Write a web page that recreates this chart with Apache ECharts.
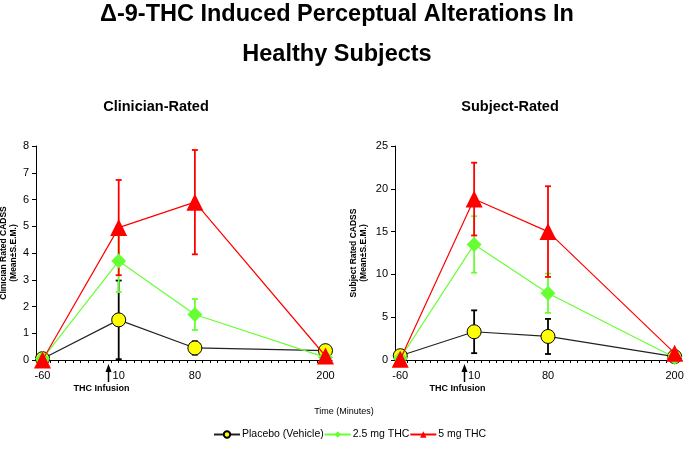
<!DOCTYPE html>
<html>
<head>
<meta charset="utf-8">
<script src="https://cdn.jsdelivr.net/npm/echarts@6/dist/echarts.min.js"></script>
<style>
html,body{margin:0;padding:0;background:#fff;}
#chart{width:686px;height:449px;}
</style>
</head>
<body>
<div id="chart"></div>
<script>
// ---- data ----
const times = [-60, 10, 80, 200];
const xTickLabels = [-60, 10, 80, 200];
const seriesNames = ['Placebo (Vehicle)', '2.5 mg THC', '5 mg THC'];

const clinPlacebo = [0.05, 1.5, 0.45, 0.35];
const clinPlaceboSem = [0, 1.47, 0.25, 0.15];
const clinLow = [0.05, 3.7, 1.7, 0.1];
const clinLowSem = [0, 1.16, 0.58, 0.05];
const clinHigh = [0.0, 4.95, 5.9, 0.15];
const clinHighSem = [0, 1.78, 1.95, 0.1];

const subjPlacebo = [0.5, 3.3, 2.75, 0.4];
const subjPlaceboSem = [0, 2.5, 2.05, 0.2];
const subjLow = [0.2, 13.5, 7.8, 0.3];
const subjLowSem = [0, 3.3, 2.3, 0.1];
const subjHigh = [0.1, 18.8, 15.0, 0.8];
const subjHighSem = [0, 4.25, 5.3, 0.2];

const minorTicks = [];
for (let k = 0; k <= 37; k++) minorTicks.push(-60 + 7 * k);

const FONT = 'Liberation Sans, Arial, sans-serif';
const colors = ['#222222', '#66ff33', '#ff0000'];

const chart = echarts.init(document.getElementById('chart'), null, {renderer: 'canvas'});

function pts(vals) { return times.map((t, i) => [t, vals[i]]); }
function errs(vals, sem) { return times.map((t, i) => [t, Math.max(0, vals[i] - sem[i]), vals[i] + sem[i]]); }

function errSeries(idx, vals, sem, color) {
  return {
    type: 'custom', xAxisIndex: idx, yAxisIndex: idx, z: 1, silent: true,
    data: errs(vals, sem).filter(d => d[2] - d[1] > 0.01),
    renderItem: function (params, api) {
      const x = api.coord([api.value(0), 0])[0];
      const lo = api.coord([api.value(0), api.value(1)])[1];
      const hi = api.coord([api.value(0), api.value(2)])[1];
      const st = {stroke: color, lineWidth: 1.8};
      return {type: 'group', children: [
        {type: 'line', shape: {x1: x, y1: lo, x2: x, y2: hi}, style: st},
        {type: 'line', shape: {x1: x - 3, y1: hi, x2: x + 3, y2: hi}, style: st},
        {type: 'line', shape: {x1: x - 3, y1: lo, x2: x + 3, y2: lo}, style: st}
      ]};
    }
  };
}

function lineSeries(idx, name, vals, k) {
  const sym = ['circle', 'diamond', 'triangle'][k];
  const size = [14, 15, 17][k];
  const itemStyle = k === 0
    ? {color: '#ffff00', borderColor: '#000', borderWidth: 1}
    : {color: colors[k], borderWidth: 0};
  return {
    name: name, type: 'line', xAxisIndex: idx, yAxisIndex: idx, z: 3 + k,
    data: pts(vals), symbol: sym, symbolSize: size, showAllSymbol: true,
    lineStyle: {color: colors[k], width: 1.2}, itemStyle: itemStyle,
    emphasis: {disabled: true}
  };
}

function xAxis(idx, min, max) {
  return {
    type: 'value', gridIndex: idx, min: min, max: max,
    splitLine: {show: false},
    axisLine: {onZero: false, lineStyle: {color: '#000', width: 1}},
    axisTick: {show: true, customValues: minorTicks, length: 3, lineStyle: {color: '#000'}},
    axisLabel: {customValues: xTickLabels, color: '#000', fontFamily: FONT, fontSize: 11, margin: 10}
  };
}
function yAxis(idx, max, interval, name, gap) {
  return {
    type: 'value', gridIndex: idx, min: 0, max: max, interval: interval,
    splitLine: {show: false},
    axisLine: {show: true, onZero: false, lineStyle: {color: '#000', width: 1}},
    axisTick: {show: true, length: 4, lineStyle: {color: '#000'}},
    axisLabel: {color: '#000', fontFamily: FONT, fontSize: 11, margin: 7},
    name: name, nameLocation: 'middle', nameRotate: 90, nameGap: gap,
    nameTextStyle: {fontFamily: FONT, fontWeight: 'bold', fontSize: 8.5, lineHeight: 10, color: '#000'}
  };
}

const option = {
  animation: false,
  backgroundColor: '#fff',
  grid: [
    {left: 36, top: 146, width: 296, height: 214, outerBoundsMode: 'none', containLabel: false},
    {left: 395, top: 146, width: 287, height: 214, outerBoundsMode: 'none', containLabel: false}
  ],
  xAxis: [xAxis(0, -66, 206), xAxis(1, -65, 207)],
  yAxis: [
    yAxis(0, 8, 1, 'Clinician Rated CADSS\n(Mean±S.E.M.)', 12),
    yAxis(1, 25, 5, 'Subject Rated CADSS\n(Mean±S.E.M.)', 26)
  ],
  legend: {
    data: seriesNames, bottom: 4, left: 208, itemGap: 0, itemWidth: 26, itemHeight: 8,
    textStyle: {fontFamily: FONT, fontSize: 10.5, color: '#000', padding: [0, 0, 0, -3]},
    selectedMode: false
  },
  series: [
    errSeries(0, clinPlacebo, clinPlaceboSem, '#000'),
    errSeries(0, clinLow, clinLowSem, colors[1]),
    errSeries(0, clinHigh, clinHighSem, colors[2]),
    lineSeries(0, seriesNames[0], clinPlacebo, 0),
    lineSeries(0, seriesNames[1], clinLow, 1),
    lineSeries(0, seriesNames[2], clinHigh, 2),
    errSeries(1, subjPlacebo, subjPlaceboSem, '#000'),
    errSeries(1, subjLow, subjLowSem, colors[1]),
    errSeries(1, subjHigh, subjHighSem, colors[2]),
    lineSeries(1, seriesNames[0], subjPlacebo, 0),
    lineSeries(1, seriesNames[1], subjLow, 1),
    lineSeries(1, seriesNames[2], subjHigh, 2)
  ]
};
chart.setOption(option);

// annotations: infusion arrows at time 0, titles
const g = [];
[0, 1].forEach(i => {
  const p = chart.convertToPixel({xAxisIndex: i, yAxisIndex: i}, [0, 0]);
  const x = Math.round(p[0]) + 0.5;
  g.push({type: 'line', shape: {x1: x, y1: 370, x2: x, y2: 382}, style: {stroke: '#000', lineWidth: 1.5}});
  g.push({type: 'polygon', shape: {points: [[x - 3, 372], [x + 3, 372], [x, 364]]}, style: {fill: '#000'}});
  g.push({type: 'text', x: x - 7, y: 389, style: {text: 'THC Infusion', fontFamily: FONT, fontWeight: 'bold', fontSize: 9, fill: '#000', align: 'center', verticalAlign: 'middle'}});
});
g.push({type: 'text', x: 337, y: 15, style: {text: 'Δ-9-THC Induced Perceptual Alterations In', fontFamily: FONT, fontWeight: 'bold', fontSize: 23.5, fill: '#000', align: 'center', verticalAlign: 'middle'}});
g.push({type: 'text', x: 337, y: 55, style: {text: 'Healthy Subjects', fontFamily: FONT, fontWeight: 'bold', fontSize: 23.5, fill: '#000', align: 'center', verticalAlign: 'middle'}});
g.push({type: 'text', x: 156, y: 107, style: {text: 'Clinician-Rated', fontFamily: FONT, fontWeight: 'bold', fontSize: 14.5, fill: '#000', align: 'center', verticalAlign: 'middle'}});
g.push({type: 'text', x: 510, y: 107, style: {text: 'Subject-Rated', fontFamily: FONT, fontWeight: 'bold', fontSize: 14.5, fill: '#000', align: 'center', verticalAlign: 'middle'}});
g.push({type: 'text', x: 344, y: 412, style: {text: 'Time (Minutes)', fontFamily: FONT, fontSize: 9, fill: '#000', align: 'center', verticalAlign: 'middle'}});
chart.setOption({graphic: g});
</script>
</body>
</html>
